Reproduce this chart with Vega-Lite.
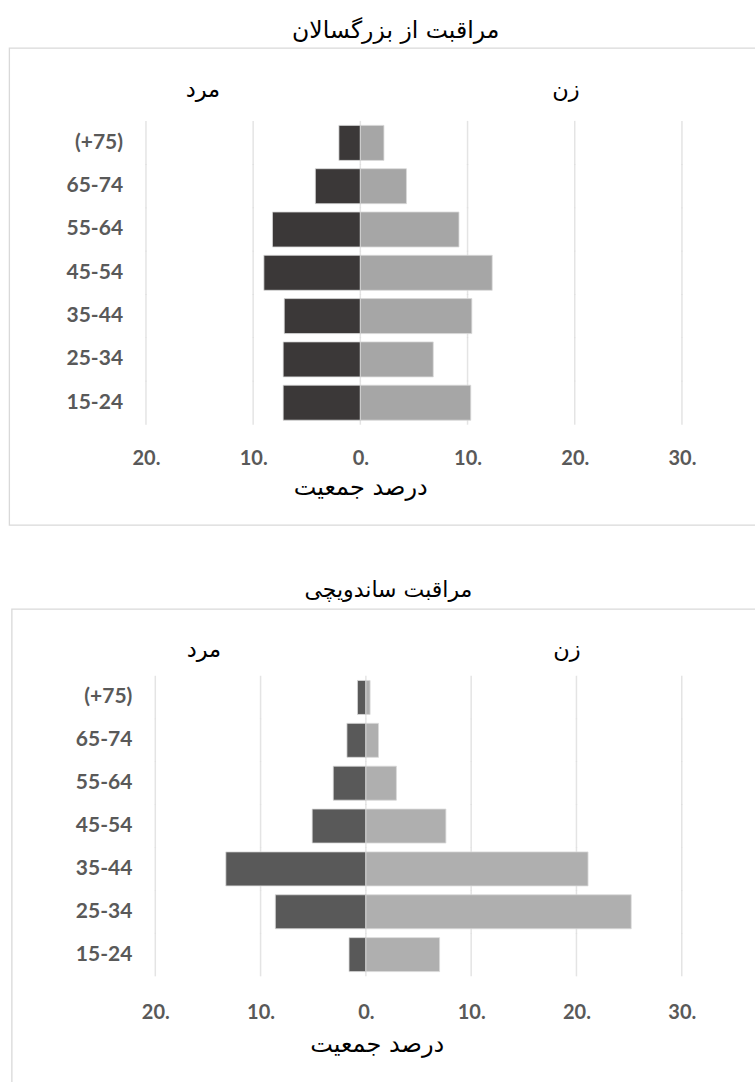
{
  "$schema": "https://vega.github.io/schema/vega-lite/v6.json",
  "background": "white",
  "padding": {"left": 8, "top": 17, "right": 0, "bottom": 0},
  "datasets": {
    "adult": [
      {"age": "(+75)", "sex": "مرد", "value": -2.0},
      {"age": "(+75)", "sex": "زن", "value": 2.2},
      {"age": "65-74", "sex": "مرد", "value": -4.2},
      {"age": "65-74", "sex": "زن", "value": 4.3},
      {"age": "55-64", "sex": "مرد", "value": -8.2},
      {"age": "55-64", "sex": "زن", "value": 9.2},
      {"age": "45-54", "sex": "مرد", "value": -9.0},
      {"age": "45-54", "sex": "زن", "value": 12.3},
      {"age": "35-44", "sex": "مرد", "value": -7.1},
      {"age": "35-44", "sex": "زن", "value": 10.4},
      {"age": "25-34", "sex": "مرد", "value": -7.2},
      {"age": "25-34", "sex": "زن", "value": 6.8},
      {"age": "15-24", "sex": "مرد", "value": -7.2},
      {"age": "15-24", "sex": "زن", "value": 10.3}
    ],
    "sandwich": [
      {"age": "(+75)", "sex": "مرد", "value": -0.8},
      {"age": "(+75)", "sex": "زن", "value": 0.4},
      {"age": "65-74", "sex": "مرد", "value": -1.8},
      {"age": "65-74", "sex": "زن", "value": 1.2},
      {"age": "55-64", "sex": "مرد", "value": -3.1},
      {"age": "55-64", "sex": "زن", "value": 2.9},
      {"age": "45-54", "sex": "مرد", "value": -5.1},
      {"age": "45-54", "sex": "زن", "value": 7.6},
      {"age": "35-44", "sex": "مرد", "value": -13.3},
      {"age": "35-44", "sex": "زن", "value": 21.1},
      {"age": "25-34", "sex": "مرد", "value": -8.6},
      {"age": "25-34", "sex": "زن", "value": 25.2},
      {"age": "15-24", "sex": "مرد", "value": -1.6},
      {"age": "15-24", "sex": "زن", "value": 7.0}
    ]
  },
  "config": {
    "view": {"stroke": "#d9d9d9", "strokeWidth": 1.3},
    "concat": {"spacing": 52},
    "tick": {"orient": "vertical", "color": "#d9d9d9", "thickness": 1.5},
    "text": {"font": "DejaVu Sans", "fontSize": 22.5, "color": "black", "baseline": "middle", "align": "center"}
  },
  "center": true,
  "vconcat": [
    {
      "title": {"text": "مراقبت از بزرگسالان", "font": "DejaVu Sans", "fontSize": 23.5, "fontWeight": "normal", "color": "black", "anchor": "middle", "offset": 6},
      "width": 773,
      "height": 477,
      "data": {"name": "adult"},
      "encoding": {
        "y": {
          "field": "age", "type": "nominal",
          "scale": {"domain": ["top", "(+75)", "65-74", "55-64", "45-54", "35-44", "25-34", "15-24", "bottom1", "bottom2"], "paddingInner": 0.192, "paddingOuter": 0.604, "align": 0.652},
          "axis": {"title": null, "values": ["(+75)", "65-74", "55-64", "45-54", "35-44", "25-34", "15-24"], "domain": false, "ticks": false, "tickSize": 0, "grid": false, "offset": -113.4, "labelPadding": 0, "labelFont": "Lato", "labelFontWeight": "bold", "labelFontSize": 21, "labelColor": "#595959"}
        }
      },
      "layer": [
        {"transform": [{"filter": "datum.sex == 'زن'"}], "mark": {"type": "tick", "size": 44}, "encoding": {"x": {"datum": -20, "type": "quantitative"}}},
        {"transform": [{"filter": "datum.sex == 'زن'"}], "mark": {"type": "tick", "size": 44}, "encoding": {"x": {"datum": -10, "type": "quantitative"}}},
        {"transform": [{"filter": "datum.sex == 'زن'"}], "mark": {"type": "tick", "size": 44}, "encoding": {"x": {"datum": 0, "type": "quantitative"}}},
        {"transform": [{"filter": "datum.sex == 'زن'"}], "mark": {"type": "tick", "size": 44}, "encoding": {"x": {"datum": 10, "type": "quantitative"}}},
        {"transform": [{"filter": "datum.sex == 'زن'"}], "mark": {"type": "tick", "size": 44}, "encoding": {"x": {"datum": 20, "type": "quantitative"}}},
        {"transform": [{"filter": "datum.sex == 'زن'"}], "mark": {"type": "tick", "size": 44}, "encoding": {"x": {"datum": 30, "type": "quantitative"}}},
        {
          "mark": {"type": "bar", "stroke": "#d9d9d9", "strokeWidth": 0.8},
          "encoding": {
            "x": {
              "field": "value", "type": "quantitative", "stack": null,
              "scale": {"domain": [-32.76, 39.35], "nice": false, "zero": false},
              "axis": {"orient": "bottom", "values": [-20, -10, 0, 10, 20, 30], "labelExpr": "abs(datum.value) + '.'", "grid": false, "domain": false, "ticks": false, "tickSize": 0, "offset": -67, "labelPadding": 0, "labelBaseline": "middle", "labelFlush": false, "labelOverlap": false, "labelFont": "Lato", "labelFontWeight": "bold", "labelFontSize": 20, "labelColor": "#595959", "title": "درصد جمعیت", "titleFont": "DejaVu Sans", "titleFontWeight": "normal", "titleFontSize": 24, "titleColor": "black", "titlePadding": 7, "titleX": 351}
            },
            "color": {"field": "sex", "type": "nominal", "scale": {"domain": ["مرد", "زن"], "range": ["#3b3838", "#a6a6a6"]}, "legend": null}
          }
        },
        {
          "transform": [{"filter": "datum.sex == 'مرد' && datum.age == '(+75)'"}],
          "mark": {"type": "text", "dy": -53},
          "encoding": {"x": {"datum": -14.69, "type": "quantitative"}, "text": {"field": "sex"}}
        },
        {
          "transform": [{"filter": "datum.sex == 'زن' && datum.age == '(+75)'"}],
          "mark": {"type": "text", "dy": -53},
          "encoding": {"x": {"datum": 19.17, "type": "quantitative"}, "text": {"field": "sex"}}
        }
      ]
    },
    {
      "title": {"text": "مراقبت ساندویچی", "font": "DejaVu Sans", "fontSize": 22, "fontWeight": "normal", "color": "black", "anchor": "middle", "offset": 7, "dx": -7.3},
      "width": 768,
      "height": 478,
      "data": {"name": "sandwich"},
      "encoding": {
        "y": {
          "field": "age", "type": "nominal",
          "scale": {"domain": ["top", "(+75)", "65-74", "55-64", "45-54", "35-44", "25-34", "15-24", "bottom1", "bottom2"], "paddingInner": 0.207, "paddingOuter": 0.68, "align": 0.491},
          "axis": {"title": null, "values": ["(+75)", "65-74", "55-64", "45-54", "35-44", "25-34", "15-24"], "domain": false, "ticks": false, "tickSize": 0, "grid": false, "offset": -120.2, "labelPadding": 0, "labelFont": "Lato", "labelFontWeight": "bold", "labelFontSize": 21, "labelColor": "#595959"}
        }
      },
      "layer": [
        {"transform": [{"filter": "datum.sex == 'زن'"}], "mark": {"type": "tick", "size": 43.4}, "encoding": {"x": {"datum": -20, "type": "quantitative"}}},
        {"transform": [{"filter": "datum.sex == 'زن'"}], "mark": {"type": "tick", "size": 43.4}, "encoding": {"x": {"datum": -10, "type": "quantitative"}}},
        {"transform": [{"filter": "datum.sex == 'زن'"}], "mark": {"type": "tick", "size": 43.4}, "encoding": {"x": {"datum": 0, "type": "quantitative"}}},
        {"transform": [{"filter": "datum.sex == 'زن'"}], "mark": {"type": "tick", "size": 43.4}, "encoding": {"x": {"datum": 10, "type": "quantitative"}}},
        {"transform": [{"filter": "datum.sex == 'زن'"}], "mark": {"type": "tick", "size": 43.4}, "encoding": {"x": {"datum": 20, "type": "quantitative"}}},
        {"transform": [{"filter": "datum.sex == 'زن'"}], "mark": {"type": "tick", "size": 43.4}, "encoding": {"x": {"datum": 30, "type": "quantitative"}}},
        {
          "mark": {"type": "bar", "stroke": "#d9d9d9", "strokeWidth": 0.8},
          "encoding": {
            "x": {
              "field": "value", "type": "quantitative", "stack": null,
              "scale": {"domain": [-33.64, 39.3], "nice": false, "zero": false},
              "axis": {"orient": "bottom", "values": [-20, -10, 0, 10, 20, 30], "labelExpr": "abs(datum.value) + '.'", "grid": false, "domain": false, "ticks": false, "tickSize": 0, "offset": -75, "labelPadding": 0, "labelBaseline": "middle", "labelFlush": false, "labelOverlap": false, "labelFont": "Lato", "labelFontWeight": "bold", "labelFontSize": 20, "labelColor": "#595959", "title": "درصد جمعیت", "titleFont": "DejaVu Sans", "titleFontWeight": "normal", "titleFontSize": 24, "titleColor": "black", "titlePadding": 10, "titleX": 365}
            },
            "color": {"field": "sex", "type": "nominal", "scale": {"domain": ["مرد", "زن"], "range": ["#595959", "#afafaf"]}, "legend": null}
          }
        },
        {
          "transform": [{"filter": "datum.sex == 'مرد' && datum.age == '(+75)'"}],
          "mark": {"type": "text", "dy": -47},
          "encoding": {"x": {"datum": -15.38, "type": "quantitative"}, "text": {"field": "sex"}}
        },
        {
          "transform": [{"filter": "datum.sex == 'زن' && datum.age == '(+75)'"}],
          "mark": {"type": "text", "dy": -47},
          "encoding": {"x": {"datum": 19.09, "type": "quantitative"}, "text": {"field": "sex"}}
        }
      ]
    }
  ],
  "resolve": {"scale": {"color": "independent", "x": "independent", "y": "independent"}}
}
